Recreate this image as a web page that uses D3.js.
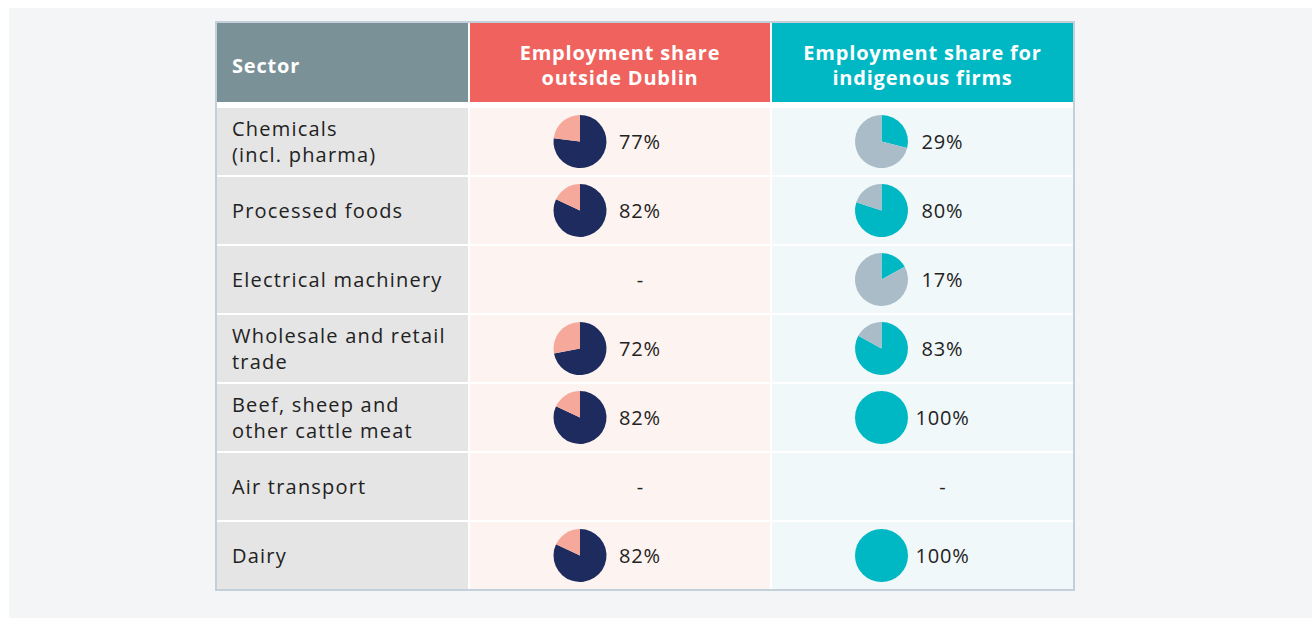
<!DOCTYPE html>
<html>
<head>
<meta charset="utf-8">
<script src="https://cdn.jsdelivr.net/npm/d3@7"></script>
<style>
body{margin:0;background:#fff;}
text{font-family:"Open Sans",sans-serif;}
</style>
</head>
<body>
<div id="chart"></div>
<script>
var sectors=[
	["Chemicals","(incl. pharma)"],
	["Processed foods"],
	["Electrical machinery"],
	["Wholesale and retail","trade"],
	["Beef, sheep and","other cattle meat"],
	["Air transport"],
	["Dairy"]
];
var outsideDublin=[77,82,null,72,82,null,82];
var indigenous=[29,80,17,83,100,null,100];
var headers=[["Sector"],["Employment share","outside Dublin"],["Employment share for","indigenous firms"]];

var W=1312,H=618;
var svg=d3.select("#chart").append("svg").attr("width",W).attr("height",H);

// panel background
svg.append("rect").attr("x",9).attr("y",8).attr("width",W-9).attr("height",H-8).attr("fill","#f4f5f7");

// table frame
var tLeft=217,tTop=23,tRight=1073,headH=79,bodyTop=108,bodyBottom=589;
svg.append("rect").attr("x",tLeft-1).attr("y",tTop-1).attr("width",tRight-tLeft+2).attr("height",bodyBottom-tTop+2)
	.attr("fill","#fff").attr("stroke","#c3d0d9").attr("stroke-width",2);

var colEdges=[217,470,772,1073];
var cols=[
	{x0:colEdges[0],x1:colEdges[1]-2,head:"#7a9198",body:"#e5e5e5"},
	{x0:colEdges[1],x1:colEdges[2]-2,head:"#f0625e",body:"#fdf3f0"},
	{x0:colEdges[2],x1:colEdges[3],head:"#00b8c4",body:"#f1f8fa"}
];

var y=d3.scaleBand().domain(d3.range(sectors.length)).range([bodyTop,bodyBottom+2]).paddingInner(0);

// header cells
svg.selectAll(".head").data(cols).enter().append("rect")
	.attr("x",function(d){return d.x0;})
	.attr("y",tTop)
	.attr("width",function(d){return d.x1-d.x0;})
	.attr("height",headH)
	.attr("fill",function(d){return d.head;});

headers.forEach(function(lines,i){
	var c=cols[i];
	var t=svg.append("text")
		.attr("fill","#fff")
		.attr("font-weight","bold")
		.attr("font-size",20)
		.attr("letter-spacing",0.8)
		.attr("text-anchor",i==0?"start":"middle");
	var cx=i==0?232:(c.x0+c.x1)/2;
	var mid=tTop+headH/2;
	lines.forEach(function(l,j){
		t.append("tspan").attr("x",cx)
			.attr("y",mid+10+(j-(lines.length-1)/2)*25)
			.text(l);
	});
});

// body cells
sectors.forEach(function(s,r){
	cols.forEach(function(c){
		svg.append("rect")
			.attr("x",c.x0)
			.attr("y",y(r))
			.attr("width",c.x1-c.x0)
			.attr("height",y.bandwidth()-2)
			.attr("fill",c.body);
	});
	var mid=y(r)+(y.bandwidth()-2)/2;
	var t=svg.append("text").attr("fill","#222").attr("font-size",20).attr("letter-spacing",1.2);
	s.forEach(function(l,j){
		t.append("tspan").attr("x",232)
			.attr("y",mid+7+(j-(s.length-1)/2)*26)
			.text(l);
	});
});

var pie=d3.pie().sort(null).value(function(d){return d;});
var arc=d3.arc().innerRadius(0).outerRadius(26.5);

function drawColumn(values,c,mainColor,restColor,pieOffset){
	var cc=(c.x0+c.x1)/2;
	values.forEach(function(v,r){
		var mid=y(r)+(y.bandwidth()-2)/2;
		if(v==null){
			svg.append("text").attr("x",cc+20).attr("y",mid+7)
				.attr("text-anchor","middle").attr("font-size",20).attr("fill","#222").text("-");
			return;
		}
		var g=svg.append("g").attr("transform","translate("+(cc+pieOffset)+","+mid+")");
		g.selectAll("path").data(pie([v,100-v])).enter().append("path")
			.attr("d",arc)
			.attr("fill",function(d,i){return i==0?mainColor:restColor;});
		svg.append("text").attr("x",cc+20).attr("y",mid+7)
			.attr("text-anchor","middle").attr("font-size",20).attr("letter-spacing",0.8)
			.attr("fill","#222").text(v+"%");
	});
}
drawColumn(outsideDublin,cols[1],"#1e2b5e","#f6a99a",-40);
drawColumn(indigenous,cols[2],"#00b8c4","#a9bcc7",-41);
</script>
</body>
</html>
